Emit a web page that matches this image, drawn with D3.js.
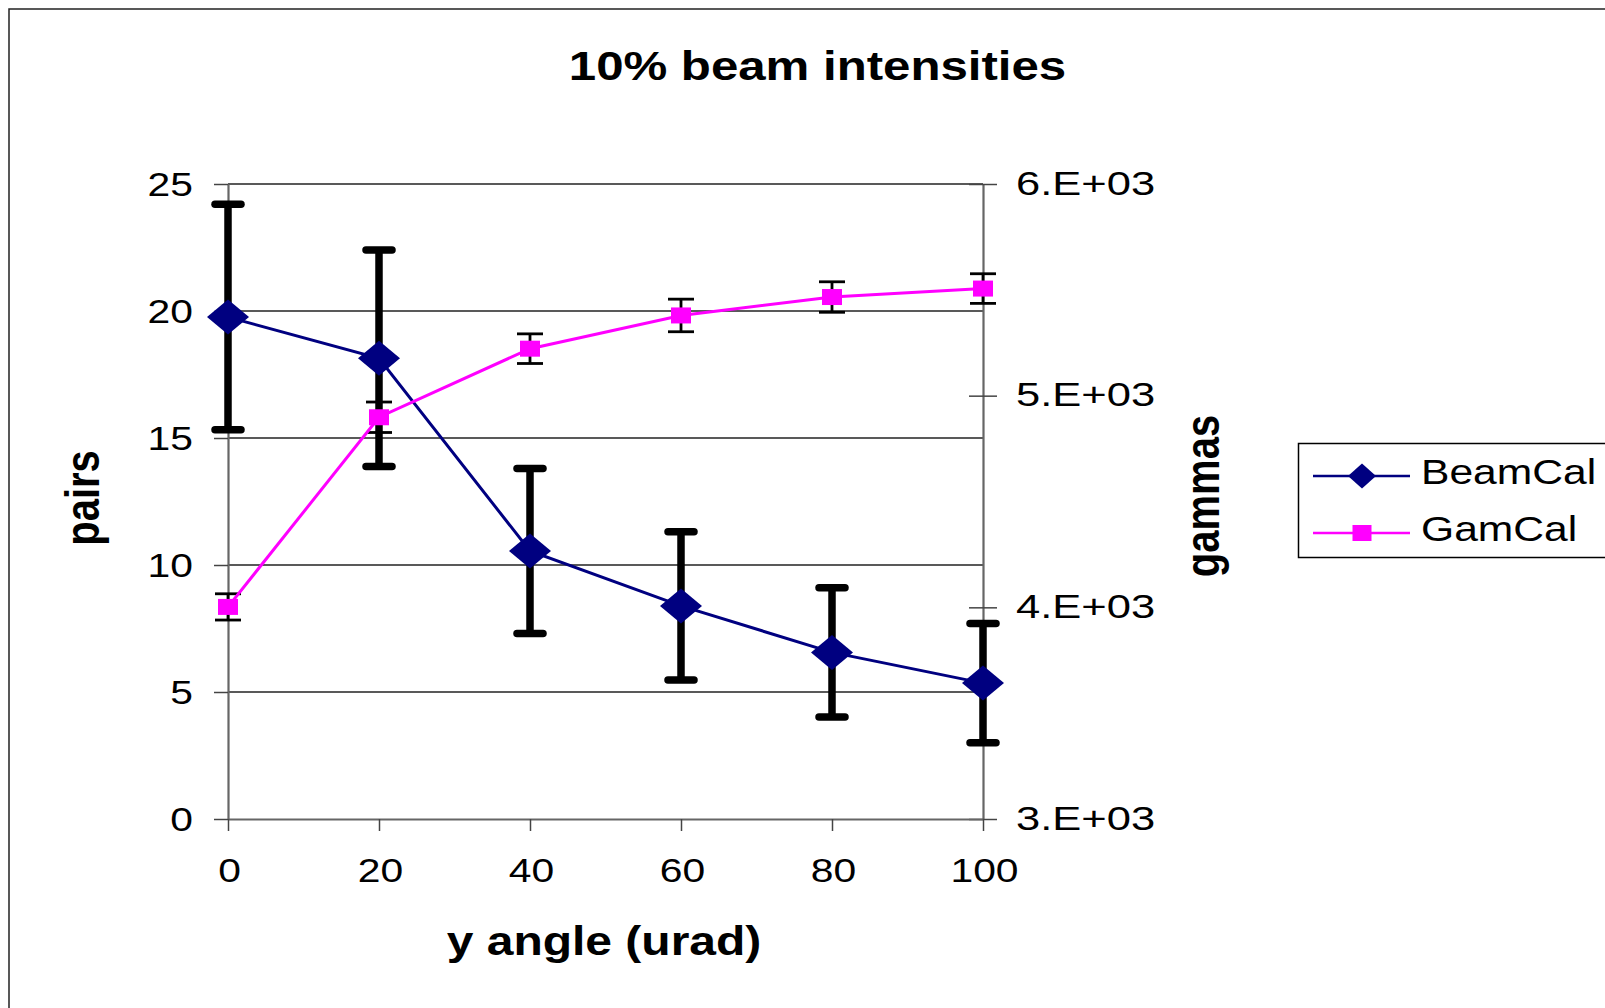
<!DOCTYPE html>
<html>
<head>
<meta charset="utf-8">
<script src="https://cdn.jsdelivr.net/npm/d3@7"></script>
<style>
  html, body { margin: 0; padding: 0; background: #fff; }
  svg { display: block; }
  text { font-family: "Liberation Sans", Arial, sans-serif; fill: #000; }
</style>
</head>
<body>
<script>
// ---- data ----
const xValues = [0, 20, 40, 60, 80, 100];
const beamCal = [19.76, 18.14, 10.55, 8.39, 6.56, 5.35];
const beamCalErr = [4.44, 4.26, 3.25, 2.92, 2.54, 2.35];
const gamCal = [4002, 4898, 5222, 5379, 5466, 5506];
const gamCalErr = [62, 72, 70, 77, 72, 70];
const leftTicks = [0, 5, 10, 15, 20, 25];
const rightTicks = [3000, 4000, 5000, 6000];
const rightTickLabels = ["3.E+03", "4.E+03", "5.E+03", "6.E+03"];
const xTicks = [0, 20, 40, 60, 80, 100];
const seriesNames = ["BeamCal", "GamCal"];
const titleText = "10% beam intensities";
const xTitle = "y angle (urad)";
const yLeftTitle = "pairs";
const yRightTitle = "gammas";

const W = 1605, H = 1008;
const SX = 1.2; // horizontal stretch of the original picture
const NAVY = "#000080", MAG = "#FF00FF";

const svg = d3.select("body").append("svg").attr("width", W).attr("height", H);
svg.append("rect").attr("width", W).attr("height", H).attr("fill", "#fff");

// outer chart frame (extends beyond visible area)
svg.append("rect").attr("x", 9).attr("y", 9).attr("width", 1700).attr("height", 1100)
  .attr("fill", "none").attr("stroke", "#222").attr("stroke-width", 1.5);

const plot = {left: 228, right: 983, top: 184, bottom: 819};
const x = d3.scaleLinear().domain([0, 100]).range([plot.left, plot.right]);
const yL = d3.scaleLinear().domain([0, 25]).range([plot.bottom, plot.top]);
const yR = d3.scaleLinear().domain([3000, 6000]).range([plot.bottom, plot.top]);

// gridlines
svg.append("g").selectAll("line").data(leftTicks.filter(d => d > 0)).join("line")
  .attr("x1", plot.left).attr("x2", plot.right)
  .attr("y1", d => yL(d)).attr("y2", d => yL(d))
  .attr("stroke", "#222").attr("stroke-width", 1.3);

function styleAxis(g) {
  g.select(".domain").attr("stroke", "#666").attr("stroke-width", 2.2);
  g.selectAll(".tick line").attr("stroke", "#444").attr("stroke-width", 1.5);
  g.selectAll("text").attr("font-size", 34).attr("font-family", "Liberation Sans, Arial, sans-serif").attr("fill", "#000");
}

// left axis
const gL = svg.append("g").attr("transform", `translate(${plot.left},0)`)
  .call(d3.axisLeft(yL).tickValues(leftTicks).tickSize(14).tickSizeOuter(0).tickFormat(d3.format("d")));
styleAxis(gL);
gL.selectAll(".tick text")
  .attr("x", null).attr("dy", null).attr("text-anchor", "end")
  .attr("transform", `translate(-35,11) scale(${SX},1)`);

// right axis
const gR = svg.append("g").attr("transform", `translate(${plot.right},0)`)
  .call(d3.axisRight(yR).tickValues(rightTicks).tickSize(14).tickSizeOuter(0)
    .tickFormat((d, i) => rightTickLabels[i]));
styleAxis(gR);
gR.selectAll(".tick line").attr("x1", -14).attr("x2", 14);
gR.selectAll(".tick text")
  .attr("x", null).attr("dy", null).attr("text-anchor", "start")
  .attr("textLength", 116).attr("lengthAdjust", "spacingAndGlyphs")
  .attr("transform", `translate(33,10) scale(${SX},1)`);

// bottom axis
const gB = svg.append("g").attr("transform", `translate(0,${plot.bottom})`)
  .call(d3.axisBottom(x).tickValues(xTicks).tickSize(12).tickSizeOuter(0).tickFormat(d3.format("d")));
styleAxis(gB);
gB.selectAll(".tick text")
  .attr("y", null).attr("dy", null).attr("text-anchor", "middle")
  .attr("transform", `translate(1,63) scale(${SX},1)`);

// ---- BeamCal series ----
const beam = xValues.map((v, i) => ({x: v, y: beamCal[i], e: beamCalErr[i]}));
const gam = xValues.map((v, i) => ({x: v, y: gamCal[i], e: gamCalErr[i]}));

const gBeamErr = svg.append("g").attr("stroke", "#000").attr("stroke-linecap", "round").attr("stroke-width", 7.5);
beam.forEach(d => {
  const cx = x(d.x), t = yL(d.y + d.e), b = yL(d.y - d.e);
  gBeamErr.append("line").attr("x1", cx).attr("x2", cx).attr("y1", t).attr("y2", b).attr("stroke-linecap", "butt");
  gBeamErr.append("line").attr("x1", cx - 13).attr("x2", cx + 13).attr("y1", t).attr("y2", t);
  gBeamErr.append("line").attr("x1", cx - 13).attr("x2", cx + 13).attr("y1", b).attr("y2", b);
});

const lineL = d3.line().x(d => x(d.x)).y(d => yL(d.y));
svg.append("path").datum(beam).attr("d", lineL).attr("fill", "none")
  .attr("stroke", NAVY).attr("stroke-width", 3);

function diamond(hw, hh) { return `M0,${-hh}L${hw},0L0,${hh}L${-hw},0Z`; }
svg.append("g").selectAll("path").data(beam).join("path")
  .attr("d", diamond(21, 17.5))
  .attr("transform", d => `translate(${x(d.x)},${yL(d.y)})`)
  .attr("fill", NAVY);

// ---- GamCal series ----
const gGamErr = svg.append("g").attr("stroke", "#000").attr("stroke-width", 2.8);
gam.forEach(d => {
  const cx = x(d.x), t = yR(d.y + d.e), b = yR(d.y - d.e);
  gGamErr.append("line").attr("x1", cx).attr("x2", cx).attr("y1", t).attr("y2", b);
  gGamErr.append("line").attr("x1", cx - 13).attr("x2", cx + 13).attr("y1", t).attr("y2", t);
  gGamErr.append("line").attr("x1", cx - 13).attr("x2", cx + 13).attr("y1", b).attr("y2", b);
});

const lineR = d3.line().x(d => x(d.x)).y(d => yR(d.y));
svg.append("path").datum(gam).attr("d", lineR).attr("fill", "none")
  .attr("stroke", MAG).attr("stroke-width", 3);

svg.append("g").selectAll("rect").data(gam).join("rect")
  .attr("x", d => x(d.x) - 10).attr("y", d => yR(d.y) - 8)
  .attr("width", 20).attr("height", 16).attr("fill", MAG);

// ---- titles ----
function stretchedText(tx, ty, txt, size, weight, anchor, rot) {
  svg.append("text")
    .attr("transform", `translate(${tx},${ty}) scale(${SX},1)` + (rot ? ` rotate(${rot})` : ""))
    .attr("text-anchor", anchor).attr("font-size", size).attr("font-weight", weight)
    .text(txt);
}
stretchedText(817.5, 80, titleText, 41, "bold", "middle");
stretchedText(604, 955, xTitle, 40, "bold", "middle");
stretchedText(99, 498, yLeftTitle, 40, "bold", "middle", -90);
stretchedText(1219, 496, yRightTitle, 40, "bold", "middle", -90);

// ---- legend ----
const lg = svg.append("g");
lg.append("rect").attr("x", 1298.5).attr("y", 443.5).attr("width", 400).attr("height", 114)
  .attr("fill", "#fff").attr("stroke", "#000").attr("stroke-width", 1.5);
const legendRows = [
  {name: seriesNames[0], color: NAVY, y: 476, mark: "diamond"},
  {name: seriesNames[1], color: MAG, y: 533, mark: "square"}
];
legendRows.forEach(r => {
  lg.append("line").attr("x1", 1313).attr("x2", 1410).attr("y1", r.y).attr("y2", r.y)
    .attr("stroke", r.color).attr("stroke-width", 2.6);
  if (r.mark === "diamond") {
    lg.append("path").attr("d", diamond(14, 12.5)).attr("transform", `translate(1362,${r.y})`).attr("fill", r.color);
  } else {
    lg.append("rect").attr("x", 1362 - 9.5).attr("y", r.y - 8).attr("width", 19).attr("height", 16).attr("fill", r.color);
  }
  lg.append("text").attr("transform", `translate(1421,${r.y + 8}) scale(${SX},1)`)
    .attr("font-size", 35.5).text(r.name);
});
</script>
</body>
</html>
